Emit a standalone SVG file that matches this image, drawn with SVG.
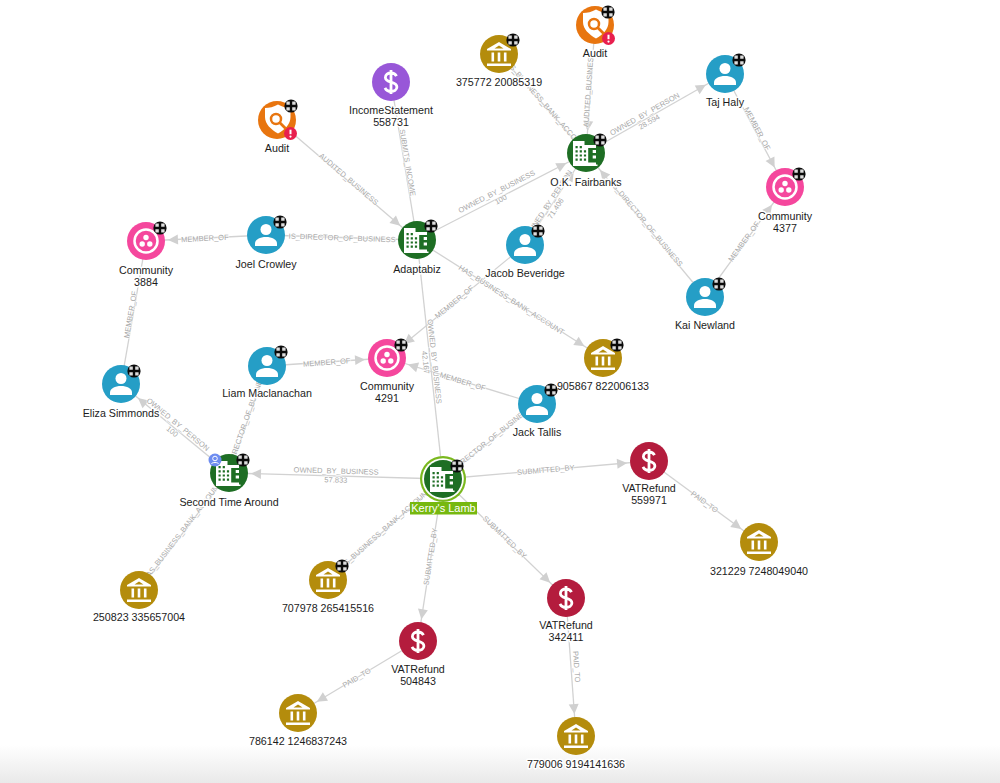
<svg xmlns="http://www.w3.org/2000/svg" width="1000" height="783" viewBox="0 0 1000 783">
<style>
text{font-family:"Liberation Sans",Arial,sans-serif}
.n{font-size:10.7px;fill:#1c1c1c;text-anchor:middle;stroke:#fff;stroke-width:3px;paint-order:stroke;stroke-linejoin:round}
.e{fill:none;stroke:#d2d2d2;stroke-width:1.3}
.a{marker-end:url(#arr)}
.l{font-size:7.5px;fill:#a8a8a8;text-anchor:middle;stroke:#fff;stroke-width:1.5px;paint-order:stroke;stroke-opacity:.7}
.w{fill:#fff}
.ws{fill:none;stroke:#fff}
</style>
<defs>
<linearGradient id="fade" x1="0" y1="0" x2="0" y2="1"><stop offset="0" stop-color="#fff"/><stop offset="1" stop-color="#e9e9e9"/></linearGradient>
<marker id="arr" markerUnits="userSpaceOnUse" markerWidth="12" markerHeight="10" refX="0" refY="0" orient="auto" overflow="visible"><path d="M-32,-5L-22,0L-32,5Z" fill="#d0d0d0"/></marker>
<g id="badge"><circle r="6.600" fill="#0b0b0b"/><path d="M-4.600-4.600h3.400v3.400h-3.400zM1.200-4.600h3.400v3.400h-3.400zM-4.600 1.200h3.400v3.400h-3.400zM1.200 1.200h3.400v3.400h-3.400z" fill="#dcdcdc"/><circle r="1.200" fill="#0b0b0b"/></g>
<g id="biz"><circle r="19" fill="#1e6e24"/><path class="w" d="M-13-12h11.500v4h11.500v19.500h1.500v1.500h-24.500z"/><path d="M-10.500-7h2.200v2.200h-2.200zM-6.300-7h2.200v2.200h-2.200zM-10.500-2.800h2.200v2.200h-2.200zM-6.300-2.800h2.200v2.200h-2.200zM-2.100-2.800h2.200v2.200h-2.200zM-10.500 1.400h2.200v2.200h-2.200zM-6.300 1.400h2.200v2.200h-2.200zM-2.100 1.400h2.200v2.200h-2.200zM-10.500 5.600h2.200v2.200h-2.200zM-6.300 5.600h2.200v2.200h-2.200zM-2.100 5.600h2.200v2.200h-2.200z" fill="#1e6e24"/><path d="M2.200-5h8.300v2h-3.800v3h3.800v2.500h-3.800v3h3.800v4h-8.300z" fill="#1e6e24"/></g>
<g id="person"><circle r="19" fill="#259ec6"/><circle cy="-5.500" r="5.500" class="w"/><path class="w" d="M-11 11v-2.500c0-4 5-6.500 11-6.500s11 2.500 11 6.500v2.500z"/></g>
<g id="bank"><circle r="19" fill="#b48c0c"/><path class="w" d="M0-12l12 7v1.500h-24v-1.500z"/><path d="M0-8.500l4.500 3h-9z" fill="#b48c0c"/><path class="w" d="M-7.500-1.500h2.600v9h-2.600zM-1.300-1.500h2.600v9h-2.600zM4.900-1.500h2.600v9h-2.600zM-12 9.500h24v2.500h-24z"/></g>
<g id="comm"><circle r="19" fill="#f5479d"/><circle r="11.500" class="ws" stroke-width="2.500"/><circle cy="-3.500" r="2.700" class="w"/><circle cx="-3.800" cy="3" r="2.700" class="w"/><circle cx="3.800" cy="3" r="2.700" class="w"/></g>
<g id="audit"><circle r="19" fill="#e8750f"/><path d="M1-15.500c4 2.500 9 3.500 12.500 3.500v9c0 7-5.500 12.500-12.500 16.500c-7-4-13-9.500-13-16.500v-9c4 0 9-1 13-3.500z" class="w"/><circle cx="-1" cy="-1" r="5" fill="none" stroke="#e8750f" stroke-width="2.500"/><path d="M2.600 2.600l8.500 8.500" stroke="#e8750f" stroke-width="2.800" fill="none"/><circle cx="13.500" cy="13.500" r="6.500" fill="#e81f4e"/><path d="M13.500 9.700v4.500" stroke="#fff" stroke-width="2" fill="none"/><circle cx="13.500" cy="16.600" r="1.100" class="w"/></g>
<path id="dollar" d="M5.500-5.800c-1.200-2.400-3.500-3.200-5.500-3.200c-3.200 0-5.600 1.600-5.600 4.400c0 6 11.500 3.600 11.500 9.600c0 2.800-2.800 4.400-5.900 4.400c-2.400 0-4.800-1-6-3.600M0-12v24" fill="none" stroke="#fff" stroke-width="2.800"/>
</defs>
<rect width="1000" height="783" fill="#fff"/>
<rect y="745" width="1000" height="38" fill="url(#fade)"/>
<g id="connectors">
<path class="e a" d="M277 120L417 240"/>
<path class="e" d="M391 82L417 240"/>
<path class="e a" d="M417 240L586 153"/>
<path class="e" d="M266 235L417 240"/>
<path class="e a" d="M266 235L146 241"/>
<path class="e a" d="M417 240L603 358"/>
<path class="e a" d="M525 245L586 153"/>
<path class="e" d="M499 54L586 153"/>
<path class="e a" d="M595 25L586 153"/>
<path class="e a" d="M586 153L725 74"/>
<path class="e a" d="M725 74L785 187"/>
<path class="e a" d="M705 297L785 187"/>
<path class="e a" d="M705 297L586 153"/>
<path class="e a" d="M525 245L387 358"/>
<path class="e a" d="M267 366L387 358"/>
<path class="e a" d="M537 404L387 358"/>
<path class="e" d="M537 404L443 479"/>
<path class="e" d="M443 479L417 240"/>
<path class="e a" d="M443 479L229 473"/>
<path class="e a" d="M229 473L121 384"/>
<path class="e" d="M267 366L229 473"/>
<path class="e" d="M121 384L146 241"/>
<path class="e" d="M229 473L139 590"/>
<path class="e" d="M443 479L328 580"/>
<path class="e a" d="M443 479L649 461"/>
<path class="e a" d="M443 479L566 598"/>
<path class="e a" d="M443 479L418 641"/>
<path class="e a" d="M649 461L759 542"/>
<path class="e a" d="M566 598L576 736"/>
<path class="e a" d="M418 641L298 713"/>
<g id="edge-labels">
<text class="l" transform="translate(347 181) rotate(40.600)">AUDITED_BUSINESS</text>
<text class="l" transform="translate(405 163) rotate(80.700)">SUBMITS_INCOME</text>
<g transform="translate(499 196) rotate(-27.200)"><text class="l" y="-2.500">OWNED_BY_BUSINESS</text><text class="l" y="6.500">100</text></g>
<text class="l" transform="translate(342 240.500) rotate(1.900)">IS_DIRECTOR_OF_BUSINESS</text>
<text class="l" transform="translate(205 241) rotate(-2.900)">MEMBER_OF</text>
<text class="l" transform="translate(510 302) rotate(32.400)">HAS_BUSINESS_BANK_ACCOUNT</text>
<g transform="translate(552 206) rotate(-56.500)"><text class="l" y="-1.500">OWNED_BY_PERSON</text><text class="l" y="7">71.406</text></g>
<text class="l" transform="translate(543 106) rotate(48.700)">HAS_BUSINESS_BANK_ACCOUNT</text>
<text class="l" transform="translate(591 90) rotate(-86)">AUDITED_BUSINESS</text>
<g transform="translate(647 118) rotate(-29.600)"><text class="l" y="-2">OWNED_BY_PERSON</text><text class="l" y="7">28.594</text></g>
<text class="l" transform="translate(755 130) rotate(62)">MEMBER_OF</text>
<text class="l" transform="translate(746 243) rotate(-54)">MEMBER_OF</text>
<text class="l" transform="translate(645 226) rotate(50.400)">IS_DIRECTOR_OF_BUSINESS</text>
<text class="l" transform="translate(456 304) rotate(-39.300)">MEMBER_OF</text>
<text class="l" transform="translate(327 365) rotate(-4.400)">MEMBER_OF</text>
<text class="l" transform="translate(462 384) rotate(17)">MEMBER_OF</text>
<text class="l" transform="translate(490 443) rotate(-38.600)">IS_DIRECTOR_OF_BUSINESS</text>
<g transform="translate(430 362) rotate(83.800)"><text class="l" y="-2">OWNED_BY_BUSINESS</text><text class="l" y="7">42.167</text></g>
<g transform="translate(336 475.500) rotate(1.600)"><text class="l" y="-2">OWNED_BY_BUSINESS</text><text class="l" y="7">57.833</text></g>
<g transform="translate(175 428) rotate(39.500)"><text class="l" y="-2">OWNED_BY_PERSON</text><text class="l" y="7">100</text></g>
<text class="l" transform="translate(248 422) rotate(-70.500)">IS_DIRECTOR_OF_BUSINESS</text>
<text class="l" transform="translate(133 315) rotate(-80)">MEMBER_OF</text>
<text class="l" transform="translate(184 533) rotate(-52.400)">HAS_BUSINESS_BANK_ACCOUNT</text>
<text class="l" transform="translate(385 532) rotate(-41.300)">HAS_BUSINESS_BANK_ACCOUNT</text>
<text class="l" transform="translate(546 472.500) rotate(-5)">SUBMITTED_BY</text>
<text class="l" transform="translate(503 539) rotate(44)">SUBMITTED_BY</text>
<text class="l" transform="translate(433 557) rotate(-81.200)">SUBMITTED_BY</text>
<text class="l" transform="translate(703 504) rotate(36)">PAID_TO</text>
<text class="l" transform="translate(574 667) rotate(85.900)">PAID_TO</text>
<text class="l" transform="translate(358 680) rotate(-31)">PAID_TO</text>
</g>
</g>
<g id="audit1"><use href="#audit" x="277" y="120"/><use href="#badge" x="291" y="106"/><text class="n" x="277" y="152">Audit</text></g>
<g id="income"><circle cx="391" cy="82" r="19" fill="#9857d8"/><use href="#dollar" x="391" y="82"/><text class="n" x="391" y="114">IncomeStatement</text><text class="n" x="391" y="126">558731</text></g>
<g id="bank375772"><use href="#bank" x="499" y="54"/><use href="#badge" x="513" y="40"/><text class="n" x="499" y="86">375772 20085319</text></g>
<g id="audit2"><use href="#audit" x="595" y="25"/><use href="#badge" x="608" y="12"/><text class="n" x="595" y="57">Audit</text></g>
<g id="taj"><use href="#person" x="725" y="74"/><use href="#badge" x="739" y="60"/><text class="n" x="725" y="106">Taj Haly</text></g>
<g id="fairbanks"><use href="#biz" x="586" y="153"/><use href="#badge" x="600" y="140"/><text class="n" x="586" y="186">O.K. Fairbanks</text></g>
<g id="comm4377"><use href="#comm" x="785" y="187"/><use href="#badge" x="799" y="174"/><text class="n" x="785" y="220">Community</text><text class="n" x="785" y="232">4377</text></g>
<g id="adaptabiz"><use href="#biz" x="417" y="240"/><use href="#badge" x="431" y="226"/><text class="n" x="417" y="273">Adaptabiz</text></g>
<g id="joel"><use href="#person" x="266" y="235"/><use href="#badge" x="280" y="222"/><text class="n" x="266" y="268">Joel Crowley</text></g>
<g id="comm3884"><use href="#comm" x="146" y="241"/><use href="#badge" x="160" y="228"/><text class="n" x="146" y="274">Community</text><text class="n" x="146" y="286">3884</text></g>
<g id="jacob"><use href="#person" x="525" y="245"/><use href="#badge" x="538" y="231"/><text class="n" x="525" y="277">Jacob Beveridge</text></g>
<g id="kai"><use href="#person" x="705" y="297"/><use href="#badge" x="719" y="284"/><text class="n" x="705" y="329">Kai Newland</text></g>
<g id="bank905867"><use href="#bank" x="603" y="358"/><use href="#badge" x="617" y="345"/><text class="n" x="603" y="390">905867 822006133</text></g>
<g id="comm4291"><use href="#comm" x="387" y="358"/><use href="#badge" x="401" y="345"/><text class="n" x="387" y="390">Community</text><text class="n" x="387" y="402">4291</text></g>
<g id="liam"><use href="#person" x="267" y="366"/><use href="#badge" x="281" y="352"/><text class="n" x="267" y="397">Liam Maclanachan</text></g>
<g id="eliza"><use href="#person" x="121" y="384"/><use href="#badge" x="134" y="371"/><text class="n" x="121" y="417">Eliza Simmonds</text></g>
<g id="jack"><use href="#person" x="537" y="404"/><use href="#badge" x="551" y="390"/><text class="n" x="537" y="436">Jack Tallis</text></g>
<g id="second"><use href="#biz" x="229" y="473"/><use href="#badge" x="243" y="460"/><circle cx="215" cy="460" r="6.500" fill="#6d8cf0"/><circle cx="215" cy="458.500" r="2.300" fill="none" stroke="#fff"/><path d="M211.500 464c0-2 7-2 7 0" fill="none" stroke="#fff"/><text class="n" x="229" y="506">Second Time Around</text></g>
<g id="kerry"><circle cx="443" cy="479" r="23" fill="#7ab81e"/><circle cx="443" cy="479" r="20.800" fill="#fff"/><use href="#biz" x="443" y="479"/><use href="#badge" x="457" y="466"/><rect x="410" y="502" width="67" height="12.500" fill="#76b80f"/><text x="443.500" y="512" font-size="11" fill="#fff" text-anchor="middle">Kerry's Lamb</text></g>
<g id="vat559971"><circle cx="649" cy="461" r="19" fill="#b41c3d"/><use href="#dollar" x="649" y="461"/><text class="n" x="649" y="492">VATRefund</text><text class="n" x="649" y="504">559971</text></g>
<g id="bank321229"><use href="#bank" x="759" y="542"/><text class="n" x="759" y="575">321229 7248049040</text></g>
<g id="bank250823"><use href="#bank" x="139" y="590"/><text class="n" x="139" y="621">250823 335657004</text></g>
<g id="bank707978"><use href="#bank" x="328" y="580"/><use href="#badge" x="342" y="566"/><text class="n" x="328" y="612">707978 265415516</text></g>
<g id="vat342411"><circle cx="566" cy="598" r="19" fill="#b41c3d"/><use href="#dollar" x="566" y="598"/><text class="n" x="566" y="629">VATRefund</text><text class="n" x="566" y="641">342411</text></g>
<g id="vat504843"><circle cx="418" cy="641" r="19" fill="#b41c3d"/><use href="#dollar" x="418" y="641"/><text class="n" x="418" y="673">VATRefund</text><text class="n" x="418" y="685">504843</text></g>
<g id="bank786142"><use href="#bank" x="298" y="713"/><text class="n" x="298" y="745">786142 1246837243</text></g>
<g id="bank779006"><use href="#bank" x="576" y="736"/><text class="n" x="576" y="768">779006 9194141636</text></g>
</svg>
